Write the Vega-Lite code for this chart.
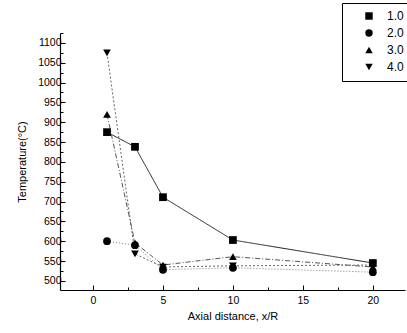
{
  "$schema": "https://vega.github.io/schema/vega-lite/v6.json",
  "width": 345,
  "height": 257,
  "autosize": {"type": "none"},
  "padding": {"left": 60, "top": 33, "right": 2, "bottom": 43},
  "background": "white",
  "config": {
    "font": "Liberation Sans",
    "view": {"stroke": null},
    "axis": {
      "domainColor": "black",
      "tickColor": "black",
      "labelColor": "black",
      "titleColor": "black",
      "labelFont": "Liberation Sans",
      "titleFont": "Liberation Sans",
      "labelFontSize": 10.5,
      "titleFontSize": 11,
      "titleFontWeight": "normal",
      "grid": false,
      "domainWidth": 1.2
    }
  },
  "data": {
    "values": [
      {"series": "1.0", "x": 1, "t": 875},
      {"series": "1.0", "x": 3, "t": 838},
      {"series": "1.0", "x": 5, "t": 711},
      {"series": "1.0", "x": 10, "t": 603},
      {"series": "1.0", "x": 20, "t": 545},
      {"series": "2.0", "x": 1, "t": 600},
      {"series": "2.0", "x": 3, "t": 590},
      {"series": "2.0", "x": 5, "t": 528},
      {"series": "2.0", "x": 10, "t": 533},
      {"series": "2.0", "x": 20, "t": 522},
      {"series": "3.0", "x": 1, "t": 920},
      {"series": "3.0", "x": 3, "t": 596},
      {"series": "3.0", "x": 5, "t": 540},
      {"series": "3.0", "x": 10, "t": 561},
      {"series": "3.0", "x": 20, "t": 535},
      {"series": "4.0", "x": 1, "t": 1075},
      {"series": "4.0", "x": 3, "t": 568},
      {"series": "4.0", "x": 5, "t": 535},
      {"series": "4.0", "x": 10, "t": 538},
      {"series": "4.0", "x": 20, "t": 540}
    ]
  },
  "encoding": {
    "x": {
      "field": "x",
      "type": "quantitative",
      "scale": {"domain": [-2.36, 22.3], "nice": false, "zero": false},
      "axis": {
        "values": [-2.5, 0, 2.5, 5, 7.5, 10, 12.5, 15, 17.5, 20, 22.5],
        "labelExpr": "datum.value % 5 == 0 ? datum.value : ''",
        "tickSize": {"condition": {"test": "datum.value % 5 == 0", "value": -5}, "value": -3},
        "title": "Axial distance, x/R",
        "titlePadding": 5,
        "labelPadding": 10
      }
    },
    "y": {
      "field": "t",
      "type": "quantitative",
      "scale": {"domain": [477, 1125], "nice": false, "zero": false},
      "axis": {
        "values": [500, 525, 550, 575, 600, 625, 650, 675, 700, 725, 750, 775, 800, 825, 850, 875, 900, 925, 950, 975, 1000, 1025, 1050, 1075, 1100, 1125],
        "labelExpr": "datum.value % 50 == 0 && datum.value <= 1100 ? format(datum.value, 'd') : ''",
        "tickSize": {"condition": {"test": "datum.value % 50 == 0", "value": -5}, "value": -3},
        "title": "Temperature(°C)",
        "titlePadding": 10,
        "labelPadding": 4
      }
    }
  },
  "layer": [
    {
      "mark": {"type": "line", "strokeWidth": 1},
      "encoding": {
        "detail": {"field": "series"},
        "color": {
          "field": "series",
          "type": "nominal",
          "scale": {"domain": ["1.0", "2.0", "3.0", "4.0"], "range": ["#222222", "#777777", "#555555", "#666666"]},
          "legend": null
        },
        "strokeDash": {
          "field": "series",
          "type": "nominal",
          "scale": {"domain": ["1.0", "2.0", "3.0", "4.0"], "range": [[1, 0], [1, 2], [5, 2, 1, 2], [2, 2]]},
          "legend": null
        }
      }
    },
    {
      "mark": {"type": "point", "filled": true, "color": "black", "opacity": 1},
      "encoding": {
        "shape": {
          "field": "series",
          "type": "nominal",
          "scale": {"domain": ["1.0", "2.0", "3.0", "4.0"], "range": ["square", "circle", "triangle-up", "triangle-down"]},
          "legend": {
            "title": null,
            "orient": "none",
            "legendX": 282,
            "legendY": -30,
            "strokeColor": "black",
            "padding": 7,
            "labelFontSize": 12,
            "labelFont": "Liberation Sans",
            "labelColor": "black",
            "labelOffset": 12,
            "symbolOffset": 14,
            "symbolFillColor": "black",
            "symbolStrokeColor": "black",
            "symbolSize": 55,
            "rowPadding": 3
          }
        },
        "size": {"value": 60}
      }
    }
  ],
  "resolve": {"legend": {"shape": "independent", "color": "independent", "strokeDash": "independent"}}
}
